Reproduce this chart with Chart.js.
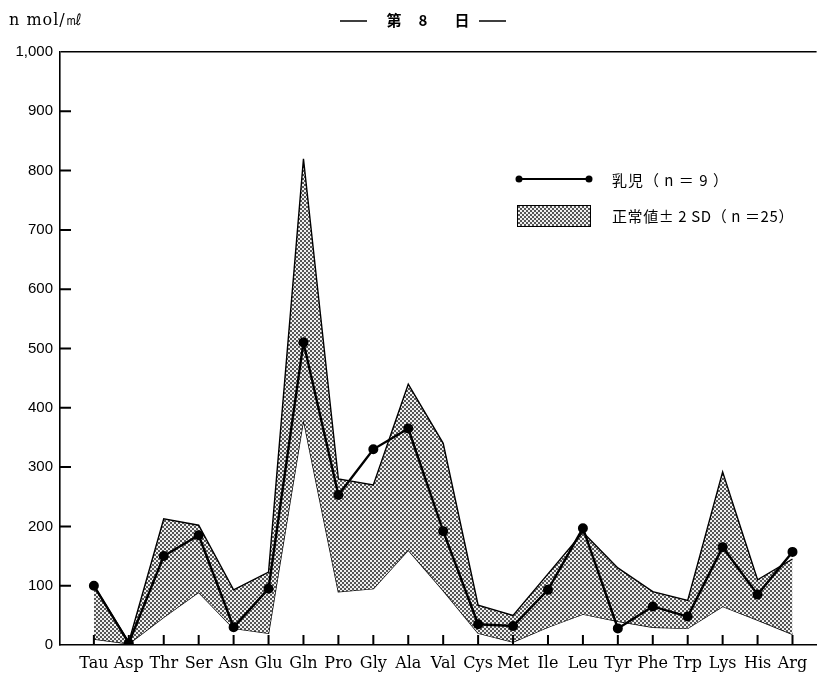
<!DOCTYPE html>
<html>
<head>
<meta charset="utf-8">
<script src="https://cdn.jsdelivr.net/npm/chart.js@4"></script>
<style>
  html, body { margin: 0; padding: 0; background: #fff; }
  #wrap { width: 823px; height: 673px; }
</style>
</head>
<body>
<div id="wrap"><canvas id="myChart" width="823" height="673"></canvas></div>
<script>
const labels = ['Tau', 'Asp', 'Thr', 'Ser', 'Asn', 'Glu', 'Gln', 'Pro', 'Gly', 'Ala', 'Val',
    'Cys', 'Met', 'Ile', 'Leu', 'Tyr', 'Phe', 'Trp', 'Lys', 'His', 'Arg'];
// 乳児 (n=9)
const infant = [100, 3, 150, 185, 30, 95, 510, 253, 330, 365, 192, 35, 32, 93, 197, 28, 65, 48, 165, 85, 157];
// 正常値 ±2SD (n=25)
const upper = [100, 5, 213, 202, 93, 123, 820, 280, 270, 440, 340, 67, 50, 120, 190, 130, 90, 75, 292, 110, 145];
const lower = [10, 2, 47, 89, 28, 20, 380, 90, 95, 160, 92, 20, 5, 30, 52, 40, 30, 28, 65, 42, 18];
const yTicks = [0, 100, 200, 300, 400, 500, 600, 700, 800, 900, 1000];

const serif = '"DejaVu Serif", "Liberation Serif", serif';
const sans = '"Liberation Sans", Arial, sans-serif';
const jp = '"Noto Sans CJK JP", sans-serif';

// 網掛け
function makePattern() {
    const c = document.createElement('canvas');
    c.width = 4; c.height = 4;
    const g = c.getContext('2d');
    g.fillStyle = '#f0f0f0';
    g.fillRect(0, 0, 4, 4);
    g.fillStyle = '#555555';
    g.fillRect(0, 0, 2, 2);
    g.fillRect(2, 2, 2, 2);
    return g.createPattern(c, 'repeat');
}
const shade = makePattern();

const pts = arr => arr.map((v, i) => ({ x: i, y: v }));

const decorations = {
    id: 'decorations',
    afterDraw(chart) {
        const ctx = chart.ctx;
        const area = chart.chartArea;
        const xs = chart.scales.x;
        const ys = chart.scales.y;
        ctx.save();
        ctx.strokeStyle = '#000000';
        ctx.lineWidth = 2;
        // 内向きの目盛り
        ctx.beginPath();
        yTicks.forEach(v => {
            if (v === 0 || v === 1000) return;
            const y = ys.getPixelForValue(v);
            ctx.moveTo(area.left, y);
            ctx.lineTo(area.left + 11, y);
        });
        labels.forEach((l, i) => {
            const x = xs.getPixelForValue(i);
            ctx.moveTo(x, area.bottom);
            ctx.lineTo(x, area.bottom - 10);
        });
        ctx.stroke();

        // 単位とタイトル
        ctx.fillStyle = '#000';
        ctx.textBaseline = 'middle';
        ctx.font = '16px ' + serif;
        ctx.textAlign = 'left';
        ctx.letterSpacing = '1px';
        ctx.fillText('n mol/㎖', 9, 21);
        ctx.letterSpacing = '0px';

        ctx.lineWidth = 1.6;
        ctx.beginPath();
        ctx.moveTo(340, 21); ctx.lineTo(367, 21);
        ctx.moveTo(479, 21); ctx.lineTo(506, 21);
        ctx.stroke();
        ctx.font = 'bold 15px ' + jp;
        ctx.textAlign = 'center';
        ctx.fillText('第', 394, 20);
        ctx.fillText('8', 423, 20);
        ctx.fillText('日', 462, 20);

        // 凡例
        const lx1 = 519, lx2 = 589;
        ctx.lineWidth = 2;
        ctx.beginPath();
        ctx.moveTo(lx1, 179);
        ctx.lineTo(lx2, 179);
        ctx.stroke();
        [lx1, lx2].forEach(x => {
            ctx.beginPath();
            ctx.arc(x, 179, 3.5, 0, Math.PI * 2);
            ctx.fill();
        });
        ctx.fillStyle = shade;
        ctx.fillRect(517, 205, 73, 21);
        ctx.lineWidth = 1;
        ctx.strokeRect(517.5, 205.5, 73, 21);
        ctx.fillStyle = '#000';
        ctx.textAlign = 'left';
        ctx.font = '15px ' + jp;
        ctx.letterSpacing = '1px';
        ctx.fillText('乳児（ n ＝ 9 ）', 612, 180);
        ctx.letterSpacing = '0.6px';
        ctx.fillText('正常値± 2 SD（ n ＝25）', 612, 216);
        ctx.restore();
    }
};

const ctx = document.getElementById('myChart').getContext('2d');
const myChart = new Chart(ctx, {
    type: 'line',
    data: {
        datasets: [
            {
                label: '乳児（n＝9）',
                data: pts(infant),
                borderColor: '#000',
                backgroundColor: '#000',
                borderWidth: 2.4,
                pointRadius: 3.8,
                pointBackgroundColor: '#000',
                fill: false,
                tension: 0
            },
            {
                label: '正常値± 2 SD（n＝25）',
                data: pts(upper),
                borderColor: '#000',
                borderWidth: 1.4,
                backgroundColor: shade,
                pointRadius: 0,
                fill: '+1',
                tension: 0
            },
            {
                label: 'lower',
                data: pts(lower),
                borderColor: '#000',
                borderWidth: 1.4,
                pointRadius: 0,
                fill: false,
                tension: 0
            }
        ]
    },
    options: {
        responsive: false,
        animation: false,
        layout: { padding: { top: 52, right: 3, left: 0, bottom: 0 } },
        scales: {
            x: {
                type: 'linear',
                min: -0.97,
                max: 20.69,
                afterBuildTicks: function (scale) {
                    scale.ticks = labels.map((l, i) => ({ value: i }));
                },
                afterFit: function (scale) { scale.height = 28; },
                border: { display: true, color: '#000', width: 1.6 },
                grid: { display: false, drawTicks: false },
                ticks: {
                    autoSkip: false,
                    maxRotation: 0,
                    padding: 9,
                    color: '#000',
                    font: { family: serif, size: 16 },
                    callback: function (value) { return labels[value]; }
                }
            },
            y: {
                min: 0,
                max: 1000,
                afterBuildTicks: function (scale) {
                    scale.ticks = yTicks.map(v => ({ value: v }));
                },
                afterFit: function (scale) { scale.width = 60; },
                border: { display: true, color: '#000', width: 1.6 },
                grid: {
                    drawTicks: false,
                    color: function (c) { return c.tick && c.tick.value === 1000 ? '#000' : 'rgba(0,0,0,0)'; },
                    lineWidth: 1.6
                },
                ticks: {
                    padding: 7,
                    color: '#000',
                    font: { family: sans, size: 15 },
                    callback: function (value) { return value.toLocaleString('en-US'); }
                }
            }
        },
        plugins: {
            legend: { display: false },
            tooltip: { enabled: false }
        }
    },
    plugins: [decorations]
});
</script>
</body>
</html>
